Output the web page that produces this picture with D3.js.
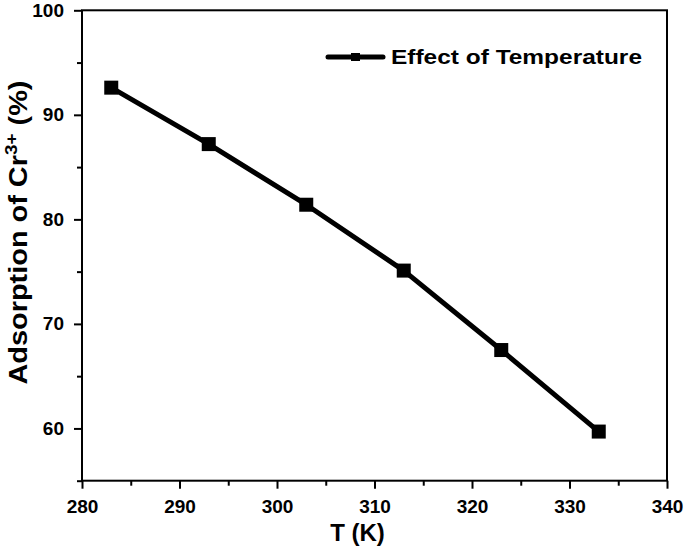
<!DOCTYPE html>
<html><head><meta charset="utf-8">
<script src="https://cdn.jsdelivr.net/npm/d3@7"></script>
<style>body{margin:0;background:#fff}svg{display:block}text{font-family:"Liberation Sans",Arial,sans-serif;font-weight:bold;fill:#000}</style>
</head><body>
<script>
const temps = [283, 293, 303, 313, 323, 333];
const adsorption = [92.6, 87.2, 81.4, 75.1, 67.5, 59.7];
const xTicks = [280, 290, 300, 310, 320, 330, 340];
const yTicks = [60, 70, 80, 90, 100];
const xMinor = [285, 295, 305, 315, 325, 335];
const yMinor = [55, 65, 75, 85, 95];
const seriesName = "Effect of Temperature";

const W = 685, H = 552;
const m = {left: 82, right: 18, top: 10.3, bottom: 71.3};
const svg = d3.select("body").append("svg").attr("width", W).attr("height", H);
const x = d3.scaleLinear().domain([280, 340]).range([m.left, W - m.right]);
const y = d3.scaleLinear().domain([55, 100]).range([H - m.bottom, m.top]);
const x0 = m.left, x1 = W - m.right, y0 = H - m.bottom, y1 = m.top;

// frame
svg.append("rect").attr("x", x0).attr("y", y1).attr("width", x1 - x0).attr("height", y0 - y1)
  .attr("fill", "none").attr("stroke", "#000").attr("stroke-width", 2);

// x axis
const gx = svg.append("g").attr("transform", `translate(0,${y0})`)
  .call(d3.axisBottom(x).tickValues(xTicks).tickFormat(d3.format("d")).tickSize(8).tickPadding(11));
gx.append("g").call(d3.axisBottom(x).tickValues(xMinor).tickFormat("").tickSize(5));
// y axis
const gy = svg.append("g").attr("transform", `translate(${x0},0)`)
  .call(d3.axisLeft(y).tickValues(yTicks).tickFormat(d3.format("d")).tickSize(8).tickPadding(10));
gy.append("g").call(d3.axisLeft(y).tickValues(yMinor).tickFormat("").tickSize(5));
svg.selectAll(".domain").remove();
svg.selectAll(".tick line").attr("stroke", "#000").attr("stroke-width", 2);
svg.selectAll(".tick text").style("font-size", "19px").style("font-family", "'Liberation Sans',Arial,sans-serif").style("font-weight", "bold").attr("fill", "#000");

// line
const pts = temps.map((t, i) => [t, adsorption[i]]);
svg.append("path").datum(pts).attr("fill", "none").attr("stroke", "#000").attr("stroke-width", 5)
  .attr("stroke-linejoin", "round")
  .attr("d", d3.line().x(d => x(d[0])).y(d => y(d[1])));
const ms = 14;
svg.selectAll("rect.pt").data(pts).enter().append("rect").attr("class", "pt")
  .attr("x", d => x(d[0]) - ms / 2).attr("y", d => y(d[1]) - ms / 2)
  .attr("width", ms).attr("height", ms).attr("fill", "#000");

// legend
const lg = svg.append("g");
lg.append("line").attr("x1", 328).attr("x2", 383).attr("y1", 57).attr("y2", 57)
  .attr("stroke", "#000").attr("stroke-width", 5).attr("stroke-linecap", "round");
lg.append("rect").attr("x", 351).attr("y", 53).attr("width", 9).attr("height", 8).attr("fill", "#000");
lg.append("text").attr("x", 391).attr("y", 63.5).style("font-size", "19.5px")
  .attr("textLength", 251).attr("lengthAdjust", "spacingAndGlyphs").text(seriesName);

// axis titles
svg.append("text").attr("x", 357.5).attr("y", 541).attr("text-anchor", "middle")
  .style("font-size", "24px").text("T (K)");
const yt = svg.append("text").attr("transform", `translate(27,232.5) rotate(-90)`)
  .attr("text-anchor", "middle").style("font-size", "26px")
  .attr("textLength", 304).attr("lengthAdjust", "spacingAndGlyphs");
yt.append("tspan").text("Adsorption of Cr");
yt.append("tspan").attr("dy", -10).style("font-size", "17px").text("3+");
yt.append("tspan").attr("dy", 10).text(" (%)");
</script>
</body></html>
